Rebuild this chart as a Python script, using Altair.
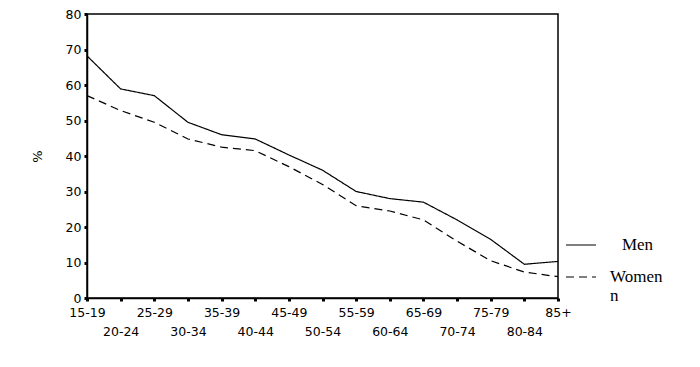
import altair as alt
import pandas as pd

ages = ["15-19", "20-24", "25-29", "30-34", "35-39", "40-44", "45-49", "50-54",
        "55-59", "60-64", "65-69", "70-74", "75-79", "80-84", "85+"]
men = [68.2, 58.9, 57.0, 49.5, 46.0, 44.8, 40.3, 36.0, 30.0, 28.0, 27.0, 22.0, 16.5, 9.5, 10.3]
women = [57.0, 52.8, 49.5, 44.8, 42.5, 41.5, 37.0, 32.0, 26.0, 24.5, 22.0, 16.0, 10.5, 7.3, 6.0]

rows = []
for a, m, w in zip(ages, men, women):
    rows.append({"age": a, "pct": m, "sex": "Men"})
    rows.append({"age": a, "pct": w, "sex": "Women"})
df = pd.DataFrame(rows)

odd_expr = "indexof(" + str(ages).replace('"', "'") + ", datum.value) % 2 == 1 ? ['', datum.value] : datum.value"
sp = "\u200b\u2002\u2009"
legend_expr = "datum.label == 'Men' ? '" + sp + "Men' : ['Women', 'n']"

chart = alt.Chart(df).mark_line(color="black", strokeWidth=1.2).encode(
    x=alt.X("age:N", sort=ages, scale=alt.Scale(type="point", padding=0),
            axis=alt.Axis(title=None, labelAngle=0, labelExpr=odd_expr,
                          labelFont="DejaVu Sans", labelFontSize=12.5,
                          labelColor="black", labelLineHeight=19, labelPadding=5,
                          tickSize=3, tickWidth=3, tickColor="black",
                          domainColor="black", domainWidth=1.5, grid=False,
                          labelBaseline="top")),
    y=alt.Y("pct:Q", scale=alt.Scale(domain=[0, 80]),
            axis=alt.Axis(title="%", values=list(range(0, 81, 10)),
                          labelFont="DejaVu Sans", labelFontSize=12.5,
                          labelColor="black", labelPadding=3,
                          tickSize=3, tickWidth=3, tickColor="black",
                          domainColor="black", domainWidth=1.5, grid=False,
                          titleFont="DejaVu Sans", titleFontSize=13,
                          titleFontWeight="normal", titleColor="black",
                          titleAngle=-90, titleX=-43, titleY=142)),
    strokeDash=alt.StrokeDash("sex:N",
                              scale=alt.Scale(domain=["Men", "Women"], range=[[1, 0], [8, 5]]),
                              legend=alt.Legend(title=None, orient="none", legendX=478, legendY=215,
                                                symbolType="stroke", symbolSize=900,
                                                symbolStrokeColor="black", symbolStrokeWidth=1.2,
                                                labelFont="Liberation Serif", labelFontSize=17,
                                                labelColor="black", labelOffset=13,
                                                labelExpr=legend_expr,
                                                rowPadding=8, labelLimit=200)),
).properties(
    width=471, height=284,
    autosize=alt.AutoSizeParams(type="none"),
    padding={"left": 79, "top": 6, "right": 134, "bottom": 61},
).configure_view(stroke="black", strokeWidth=1.5)

chart.save("out.html", embed_options={"renderer": "svg", "actions": False})
